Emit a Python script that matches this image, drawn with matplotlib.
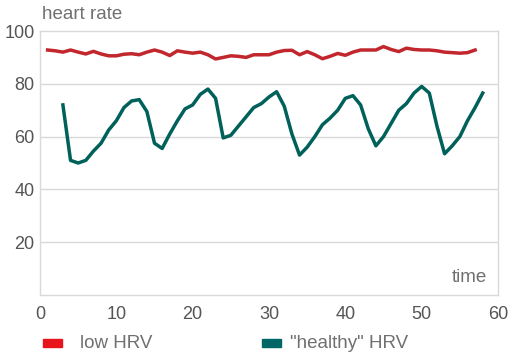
import matplotlib
matplotlib.use("Agg")
import matplotlib.pyplot as plt
from matplotlib.patches import Rectangle

plt.rcParams['font.family'] = ['Liberation Sans', 'DejaVu Sans']

t_low = list(range(1, 58))
low_hrv = [92.8, 92.5, 92.0, 92.8, 92.0, 91.3, 92.3, 91.3, 90.6, 90.6,
           91.2, 91.4, 91.0, 92.0, 92.8, 92.0, 90.7, 92.5, 92.0, 91.6,
           92.0, 91.0, 89.4, 90.0, 90.6, 90.4, 90.0, 91.0, 91.0, 91.0,
           92.0, 92.6, 92.7, 91.0, 92.2, 91.0, 89.5, 90.4, 91.5, 90.8,
           92.0, 92.8, 92.8, 92.8, 94.1, 93.0, 92.2, 93.5, 93.0, 92.8,
           92.8, 92.5, 92.0, 91.8, 91.6, 91.8, 92.8]

t_healthy = list(range(3, 59))
healthy_hrv = [72.0, 51.0, 50.0, 51.0, 54.5, 57.5, 62.5, 66.0, 71.0, 73.5,
               74.0, 69.5, 57.5, 55.5, 61.0, 66.0, 70.5, 72.0, 76.0, 78.0,
               74.5, 59.5, 60.5, 64.0, 67.5, 71.0, 72.5, 75.0, 77.0, 71.5,
               61.0, 53.0, 56.0, 60.0, 64.5, 67.0, 70.0, 74.5, 75.5, 72.0,
               63.0, 56.5, 60.0, 65.0, 70.0, 72.5, 76.5, 79.0, 76.5, 64.0,
               53.5, 56.5, 60.0, 66.0, 71.0, 76.5]

series_names = ['low HRV', '"healthy" HRV']
line_colors = ['#c1272d', '#00605a']
swatch_colors = ['#e8141b', '#006666']
xticks = [0, 10, 20, 30, 40, 50, 60]
yticks = [20, 40, 60, 80, 100]

txt = '#707070'
fig = plt.figure(figsize=(5.1, 3.61), dpi=100)
ax = fig.add_axes([40/510, 1-295/361, 458/510, 264/361])
ax.plot(t_low, low_hrv, color=line_colors[0], lw=2.5, solid_joinstyle='round')
ax.plot(t_healthy, healthy_hrv, color=line_colors[1], lw=2.5, solid_joinstyle='round')
ax.set_xlim(0, 60)
ax.set_ylim(0, 100)
ax.set_xticks(xticks)
ax.set_yticks(yticks)
for y in [20, 40, 60, 80]:
    ax.axhline(y, color='#d9d9d9', lw=1, zorder=0)
for s in ax.spines.values():
    s.set_color('#d9d9d9')
    s.set_linewidth(1)
ax.tick_params(length=0, labelsize=13, labelcolor='#555555', pad=8)
ax.tick_params(axis='y', pad=4)
ax.text(0.005, 1.03, 'heart rate', transform=ax.transAxes, fontsize=13.5,
        color=txt, ha='left', va='bottom')
ax.text(0.975, 0.035, 'time', transform=ax.transAxes, fontsize=13.5,
        color=txt, ha='right', va='bottom')

# legend
for i, (name, col, x0, xt) in enumerate(zip(series_names, swatch_colors,
                                             [43, 262], [80, 290])):
    fig.patches.append(Rectangle((x0/510, 1-347/361), 19/510, 8/361,
                                 transform=fig.transFigure, color=col))
    fig.text(xt/510, 1-343/361, name, fontsize=13.5, color=txt,
             ha='left', va='center')

fig.savefig('out.png', dpi=100)
